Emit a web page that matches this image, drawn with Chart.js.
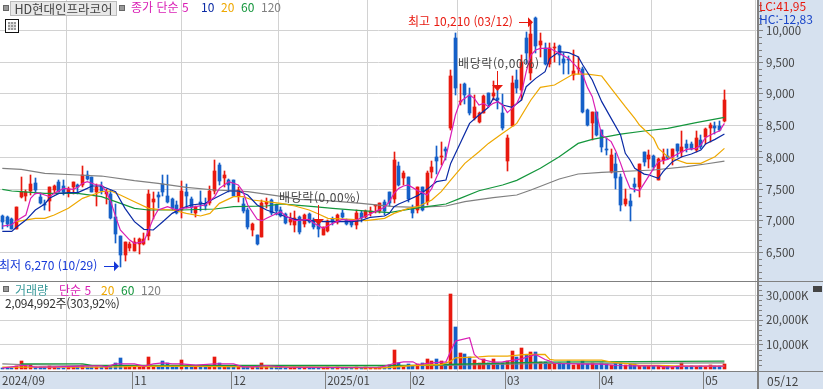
<!DOCTYPE html>
<html lang="ko"><head><meta charset="utf-8">
<style>
html,body{margin:0;padding:0;background:#fff;overflow:hidden}
#wrap{position:relative;width:823px;height:389px;font-family:"Noto Sans CJK KR","Noto Sans",sans-serif;font-size:12px;line-height:14px;color:#444}
canvas{position:absolute;left:0;top:0}
.t{position:absolute;white-space:pre}
.sq{position:absolute;width:4px;height:4px;background:#999;border:1px solid #666}
</style>
<script src="https://cdn.jsdelivr.net/npm/chart.js@4"></script>
</head><body>
<div id="wrap">
<canvas id="c" width="823" height="389"></canvas>
<div class="sq" style="left:3px;top:5px"></div>
<div class="t" style="left:10px;top:1px;width:105px;height:13px;background:#e8e8e8;border:1px solid #bbb;line-height:13px;text-align:center;color:#444;font-size:12.5px">HD현대인프라코어</div>
<div class="sq" style="left:119px;top:5px"></div>
<div class="t" style="left:131px;top:0;color:#d91eb5">종가 단순 5</div>
<div class="t" style="left:201px;top:0;color:#0a2aa5">10</div>
<div class="t" style="left:221px;top:0;color:#eea800">20</div>
<div class="t" style="left:241px;top:0;color:#14963c">60</div>
<div class="t" style="left:261px;top:0;color:#808080">120</div>
<svg style="position:absolute;left:5px;top:19px" width="14" height="14"><rect x=".5" y=".5" width="13" height="13" fill="#fff" stroke="#111"/><rect x="3" y="3" width="8" height="8" fill="#999"/><path d="M5.5 3v8M8.5 3v8M3 5.5h8M3 8.5h8" stroke="#ddd"/></svg>
<div class="t" style="left:759px;top:-1px;color:#e8190f">LC:41,95</div>
<div class="t" style="left:759px;top:12px;color:#1a46c8">HC:-12,83</div>
<div class="t" style="left:408px;top:14px;color:#e8190f">최고 10,210 (03/12)</div>
<div class="t" style="left:-1px;top:258px;color:#1538d8">최저 6,270 (10/29)</div>
<div class="t" style="left:458px;top:56px;color:#444;letter-spacing:.6px">배당락(0,00%)</div>
<div class="t" style="left:279px;top:190px;color:#444;letter-spacing:.6px">배당락(0,00%)</div>
<div class="sq" style="left:3px;top:286px"></div>
<div class="t" style="left:15px;top:283px;color:#3a9a9a">거래량</div>
<div class="t" style="left:59px;top:283px;color:#d91eb5">단순 5</div>
<div class="t" style="left:101px;top:283px;color:#eea800">20</div>
<div class="t" style="left:121px;top:283px;color:#14963c">60</div>
<div class="t" style="left:141px;top:283px;color:#808080">120</div>
<div class="t" style="left:5px;top:296px;color:#333;letter-spacing:-.3px">2,094,992주(303,92%)</div>
<div style="position:absolute;left:813px;top:286px;width:9px;height:6px;background:#444"></div>
<div class="t" style="left:767px;top:374px;color:#444">05/12</div>
</div>
<script>
const opens=[7080,7060,7030,6880,7370,7390,7480,7600,7370,7270,
7320,7490,7620,7550,7450,7530,7570,7570,7720,7690,
7450,7550,7430,7430,7060,6760,6470,6580,6530,6640,
6640,6760,7300,7410,7580,7390,7350,7250,7170,7450,
7350,7130,7300,7270,7290,7480,7880,7680,7650,7650,
7390,7270,7180,6860,6780,6750,7270,7330,7250,7180,
7110,6980,6940,7070,6960,7110,7020,6990,6780,6840,
7030,6980,7120,7010,6990,6940,7130,7060,7120,7230,
7160,7300,7450,7350,7860,7680,7690,7200,7180,7530,
7300,7770,8010,8010,8130,8460,9880,8880,9160,8990,
8620,8560,8700,9010,8970,8930,8700,7940,8500,9220,
9060,9880,9330,10200,9770,9720,9470,9720,9760,9550,
9550,9300,9390,9400,8750,8550,8720,8430,8140,7770,
7900,7700,7270,7310,7580,7540,8080,7980,8020,7640,
7960,8020,8000,8210,8080,8220,8220,8120,8280,8320,
8470,8500,8500,8580];
const closes=[6990,6950,6880,7220,7450,7450,7580,7490,7280,7250,
7530,7550,7460,7450,7500,7610,7530,7720,7660,7460,
7540,7480,7450,7050,6800,6470,6670,6630,6670,6710,
6720,7430,7350,7370,7460,7300,7200,7130,7470,7390,
7220,7220,7270,7230,7480,7790,7630,7720,7570,7390,
7490,7150,6910,6960,6630,7290,7300,7130,7150,7080,
6970,7030,7040,6830,7100,6990,6910,6880,6900,7000,
6990,7090,7060,6960,6940,7120,7040,7150,7160,7240,
7280,7160,7280,7960,7570,7760,7340,7130,7530,7180,
7760,7850,7950,8020,8110,9280,9090,8890,8980,8700,
8790,8700,8970,8840,9010,8900,8470,8300,9170,9100,
9510,9640,9950,9750,9830,9480,9720,9730,9610,9490,
9530,9360,9410,8720,8510,8710,8350,8170,8120,8040,
7680,7250,7340,7240,7540,7900,7930,8040,7850,7980,
8010,7990,8130,8110,8160,8150,8140,8300,8160,8450,
8510,8470,8440,8900];
const highs=[7090,7080,7040,7220,7700,7490,7720,7670,7440,7330,
7540,7570,7640,7650,7530,7620,7580,7870,7780,7700,
7590,7620,7510,7490,7270,6770,6670,6670,6730,6730,
6810,7490,7450,7450,7720,7720,7360,7320,7630,7590,
7370,7240,7470,7360,7550,7960,7910,7790,7660,7650,
7540,7360,7200,6970,6780,7330,7360,7340,7270,7220,
7120,7130,7160,7080,7110,7120,7040,7020,6900,7020,
7060,7110,7170,7030,7020,7170,7150,7170,7220,7250,
7290,7330,7460,8080,7930,7780,7700,7250,7540,7540,
7780,7950,8180,8240,8170,9370,9960,9160,9170,9100,
8990,8710,8980,9020,9210,9060,9000,8360,9280,9380,
9610,9980,10110,10210,9960,9800,9800,9810,9770,9640,
9600,9690,9590,9430,8760,8720,8720,8430,8300,8130,
8070,7740,7500,7430,7670,7900,8090,8120,8040,7990,
8130,8130,8140,8220,8420,8280,8250,8420,8350,8470,
8550,8560,8570,9060];
const lows=[6880,6910,6870,6870,7360,7320,7410,7430,7270,7170,
7150,7430,7450,7410,7380,7430,7430,7540,7640,7450,
7240,7430,7270,7030,6660,6270,6370,6520,6530,6480,
6620,6700,7030,7200,7390,7290,7170,7110,7050,7200,
7130,7070,7160,7170,7250,7430,7570,7530,7450,7390,
7300,7120,6880,6770,6620,6750,7200,7090,7090,7060,
6950,6940,6820,6790,6910,6970,6880,6750,6780,6820,
6940,6960,7050,6940,6910,6870,6990,7040,7080,7130,
7120,7090,7240,7290,7550,7570,7300,7050,7120,7160,
7250,7670,7740,7880,7960,8440,8980,8830,8850,8670,
8590,8550,8700,8800,8900,8770,8440,7790,8490,9010,
8900,9480,9220,9650,9590,9460,9430,9510,9450,9310,
9320,9220,9320,8700,8490,8280,8340,8080,8040,7750,
7510,7150,7240,7000,7460,7380,7860,7830,7800,7640,
7900,7980,7880,8000,8010,8090,8120,8090,8130,8220,
8250,8370,8410,8560];
const volumes=[800,700,800,1300,3600,1500,1700,1000,900,1000,
1600,900,800,800,900,1100,900,1900,900,1000,
1000,900,1000,1400,2700,4450,1300,1100,1100,1000,
1100,4860,1400,1300,3240,2700,1500,1500,3650,1400,
1300,1300,1100,900,1300,4860,2430,1300,1300,1300,
1300,1000,1200,1100,900,2430,900,1100,900,900,
800,800,900,900,800,700,700,800,700,900,
700,900,700,700,700,900,800,900,700,700,
900,1200,1700,7700,2700,1350,2025,1600,2025,2430,
4050,3240,4050,3240,2025,30400,17000,6480,6075,5000,
3650,2700,4320,2700,4050,2700,2700,3375,7290,4860,
8500,5670,6885,6885,2970,2970,2400,2400,2700,2160,
3375,1620,2025,3375,2025,2430,1620,2430,2025,1620,
2700,2700,1900,2025,2025,1350,1500,1300,1350,1500,
1300,1350,1200,1350,2430,1200,1350,1200,1300,1200,
1900,1300,1300,2095];

const ma5Idx=[0,2,3,5,6,7,8,9,10,11,13,15,16,17,18,20,21,22,23,24,25,27,28,30,31,32,33,34,35,37,38,40,43,45,46,48,50,51,52,54,55,56,57,59,60,62,63,65,66,68,69,70,72,74,75,77,79,81,82,83,84,85,86,88,89,90,91,92,94,96,97,99,100,101,102,103,104,105,106,107,108,109,110,111,112,113,114,116,118,120,122,123,124,125,126,127,129,130,131,132,133,135,136,138,139,141,142,144,145,147,148,149,151,152,153];
const ma5=[6920,6940,7005,7094,7357,7435,7435,7409,7383,7435,7514,7498,7530,7593,7619,7567,7567,7462,7304,7068,6858,6700,6648,6674,6858,7042,7173,7199,7225,7173,7199,7215,7252,7383,7514,7619,7567,7462,7252,7026,7005,7042,7079,7147,7079,7005,7015,7026,6963,6884,6926,6963,7026,7005,7015,7079,7147,7215,7304,7435,7514,7551,7567,7478,7446,7409,7514,7690,8012,8669,8879,8984,8931,8826,8852,8800,8852,8879,8826,8706,8774,8852,9010,9351,9614,9693,9719,9719,9640,9561,9404,9299,9100,8957,8660,8354,8250,8100,7907,7697,7514,7477,7592,7829,7934,7970,8012,8091,8128,8144,8196,8317,8390,8422,8537];
const ma10Idx=[0,2,3,5,7,9,10,12,14,16,18,19,21,24,26,28,30,32,34,36,38,40,43,45,48,50,52,54,56,59,62,64,68,71,74,76,78,81,82,83,84,86,88,90,92,94,95,97,99,101,103,104,106,108,110,111,113,115,116,118,120,122,123,125,127,129,131,132,133,134,136,137,139,140,142,144,146,148,149,151,153];
const ma10=[6837,6837,6900,7015,7173,7268,7357,7435,7446,7446,7514,7551,7551,7462,7199,6989,6869,6858,6989,7120,7199,7252,7278,7357,7472,7472,7409,7252,7173,7094,7026,7015,6989,6989,6989,7005,7058,7079,7120,7225,7268,7330,7399,7498,7619,7646,7907,8222,8537,8669,8790,8931,8826,8790,8905,9115,9246,9351,9561,9666,9650,9588,9456,9220,8879,8616,8354,8065,7960,7829,7739,7724,7671,7776,7934,8012,8054,8117,8212,8285,8369];
const ma20Idx=[3,7,9,11,14,17,19,21,23,25,28,31,33,36,39,42,44,46,49,51,53,56,59,62,65,67,69,74,77,81,83,86,88,91,93,95,98,101,103,106,109,112,114,117,121,124,127,129,132,134,135,138,139,141,145,148,151,153];
const ma20=[6989,7042,7042,7094,7199,7357,7409,7462,7472,7409,7304,7199,7183,7173,7120,7079,7120,7278,7383,7383,7330,7304,7278,7236,7173,7110,7042,7026,7005,7042,7120,7199,7225,7330,7462,7645,7907,8091,8222,8380,8537,8905,9105,9141,9314,9314,9283,9089,8800,8616,8511,8301,8144,8012,7907,7907,8012,8144];
const ma60Idx=[0,2,4,9,16,21,24,28,31,38,45,49,56,59,66,70,76,82,86,90,94,97,101,106,109,114,118,122,125,131,136,141,147,153];
const ma60=[7498,7472,7462,7435,7435,7383,7304,7199,7173,7173,7189,7225,7236,7268,7225,7199,7163,7131,7183,7225,7268,7357,7477,7567,7640,7829,8012,8222,8285,8369,8417,8459,8548,8632];
const ma120Idx=[0,4,9,16,21,28,33,39,45,52,58,63,69,76,83,88,94,98,104,109,112,118,122,127,138,145,149,153];
const ma120=[7829,7813,7750,7724,7708,7635,7593,7530,7488,7462,7399,7341,7320,7278,7225,7215,7236,7304,7367,7409,7488,7661,7740,7766,7803,7855,7897,7944];

const volMa5Idx=[0,4,5,7,11,19,21,22,24,28,30,32,34,36,38,41,45,49,51,53,56,60,70,80,81,83,85,87,88,91,94,95,96,99,100,101,104,106,107,110,113,115,116,117,124,127,130,134,139,140,142,144,153];
const volMa5=[540,1620,1620,1000,1080,1485,1485,1080,2295,2295,1350,2295,2700,2295,2295,1800,2295,2295,1080,1080,1620,1000,800,900,1350,2430,3100,3100,2025,2700,3100,7425,11475,12825,6075,4320,2970,3100,3375,4320,6075,4050,3375,2430,2160,2160,1620,1485,1485,1080,1080,1350,1350];
const volMa20Idx=[0,20,25,30,40,60,70,81,87,93,95,96,101,103,107,111,115,116,117,127,129,133,135,139,144,153];
const volMa20=[950,1000,1100,1400,1300,1000,800,700,1620,2025,3375,4725,5130,5400,5400,6075,6075,4050,3780,3780,2970,2295,1620,1620,1350,1350];
const volMa60Idx=[4,17,19,60,82,88,94,115,153];
const volMa60=[2295,2295,1620,1620,1620,1700,2025,2970,3375];
const volMa120Idx=[0,4,17,56,93,115,153];
const volMa120=[2295,2025,1620,1350,1620,2430,2700];

const priceTicks=[6500,7000,7500,8000,8500,9000,9500,10000];
const volumeTicks=[10000,20000,30000];
const xTickIndex=[-0.487,27.5,48.5,68.4,86.4,106.5,126.4,148.5];
const xTickLabels=["2024/09","11","12","2025/01","02","03","04","05"];
const lowMark={index:25,price:6270};
const highMark={index:113,price:10210};
const dividendIdx=[67,105];

const RED="#e8190f",BLUE="#1560c8",GRID="#d2d2d2",AXIS="#808080",PANEL="#d6e1ef";
const colors=closes.map((c,i)=>c>=opens[i]?RED:BLUE);
const pts=(xs,ys)=>xs.map((x,i)=>({x,y:ys[i]}));
const line=(label,xs,ys,col,axis,w)=>({type:'line',label,data:pts(xs,ys),borderColor:col,backgroundColor:col,borderWidth:w||1.2,pointRadius:0,tension:0,yAxisID:axis,order:1,clip:true});
const bar=(label,data,axis,th,ord)=>({type:'bar',label,data,backgroundColor:colors,borderWidth:0,barThickness:th,grouped:false,yAxisID:axis,order:ord});
const noPad=(s)=>{s.paddingTop=0;s.paddingBottom=0;s.paddingLeft=0;s.paddingRight=0;};

const panels={id:'panels',beforeDraw(ch){
  const g=ch.ctx,a=ch.chartArea;
  g.save();g.fillStyle=PANEL;
  g.fillRect(a.right,0,ch.width-a.right,ch.height);
  g.fillRect(0,a.bottom,ch.width,ch.height-a.bottom);
  g.restore();
},afterDraw(ch){
  const g=ch.ctx,a=ch.chartArea,y=ch.scales.y,v=ch.scales.v,x=ch.scales.x;
  g.save();g.fillStyle=AXIS;
  g.fillRect(a.right,0,2,ch.height);
  g.fillRect(0,Math.round(y.bottom),ch.width,1);
  g.fillRect(0,Math.round(a.bottom),ch.width,1);
  for(let p=6100;p<=10400;p+=100){ if(p%500) g.fillRect(a.right+2,Math.round(y.getPixelForValue(p)),3,1); }
  for(let p=2000;p<=34000;p+=2000){ if(p%10000) g.fillRect(a.right+2,Math.round(v.getPixelForValue(p)),3,1); }
  for(const t of xTickIndex.slice(1)) g.fillRect(Math.round(x.getPixelForValue(t)),a.bottom,1,ch.height-a.bottom);
  g.fillRect(a.right,a.bottom,2,ch.height-a.bottom);
  /* arrows */
  const hx=Math.floor(x.getPixelForValue(highMark.index)),hy=y.getPixelForValue(highMark.price)+4.5;
  g.fillStyle=g.strokeStyle=RED;g.lineWidth=1;
  g.fillRect(hx-16,Math.round(hy),11,1);
  g.beginPath();g.moveTo(hx-2,hy+.5);g.lineTo(hx-7,hy-4.5);g.lineTo(hx-7,hy+5.5);g.closePath();g.fill();
  const lx=Math.floor(x.getPixelForValue(lowMark.index)),ly=y.getPixelForValue(lowMark.price)-1.5;
  g.fillStyle=g.strokeStyle="#1538d8";
  g.fillRect(lx-16,Math.round(ly),11,1);
  g.beginPath();g.moveTo(lx-1,ly+.5);g.lineTo(lx-6,ly-4.5);g.lineTo(lx-6,ly+5.5);g.closePath();g.fill();
  g.fillStyle=RED;
  dividendIdx.forEach((d,k)=>{
    const dx=Math.floor(x.getPixelForValue(d));
    const tip=k===0?225:91;
    g.fillRect(dx,tip-20,1,15);
    g.beginPath();g.moveTo(dx+.5,tip);g.lineTo(dx-5,tip-6);g.lineTo(dx+6,tip-6);g.closePath();g.fill();
  });
  g.restore();
}};
const crisp={id:'crisp',beforeDatasetDraw(ch,args){
  if(args.meta.type!=='bar')return;
  for(const el of args.meta.data){
    el.x=Math.floor(el.x)+.5;
    let a=Math.round(el.y),b=Math.round(el.base);
    if(a===b)a=b-1;
    el.y=a;el.base=b;
  }
}};

new Chart(document.getElementById('c'),{
  data:{datasets:[
    line('MA5',ma5Idx,ma5,'#d91eb5','y'),
    line('MA10',ma10Idx,ma10,'#0a2aa5','y'),
    line('MA20',ma20Idx,ma20,'#eea800','y'),
    line('MA60',ma60Idx,ma60,'#14963c','y'),
    line('MA120',ma120Idx,ma120,'#808080','y'),
    line('V5',volMa5Idx,volMa5,'#d91eb5','v'),
    line('V20',volMa20Idx,volMa20,'#eea800','v',1.3),
    line('V60',volMa60Idx,volMa60,'#14963c','v',1.3),
    line('V120',volMa120Idx,volMa120,'#808080','v'),
    bar('body',opens.map((o,i)=>({x:i,y:[o,closes[i]]})),'y',3,5),
    bar('wick',lows.map((l,i)=>({x:i,y:[l,highs[i]]})),'y',1,6),
    bar('volume',volumes.map((q,i)=>({x:i,y:q})),'v',3,7)
  ]},
  options:{
    responsive:false,animation:false,events:[],
    layout:{padding:0},
    plugins:{legend:{display:false},tooltip:{enabled:false}},
    scales:{
      x:{type:'linear',min:-0.487,max:159.9,bounds:'data',offset:false,
        afterBuildTicks(s){s.ticks=xTickIndex.map(value=>({value}));},
        afterFit(s){s.height=18;noPad(s);},
        grid:{color:(c)=>c.index===0?'transparent':GRID,drawTicks:false},
        border:{display:false},
        ticks:{autoSkip:false,maxRotation:0,align:'start',labelOffset:2,padding:3,color:'#444',
          font:{family:'"Noto Sans CJK KR"',size:11.5},
          callback:(v,i)=>xTickLabels[i]}
      },
      y:{type:'linear',position:'right',stack:'p',stackWeight:281,weight:1,min:6055,max:10480,bounds:'data',
        afterBuildTicks(s){s.ticks=priceTicks.map(value=>({value}));},
        afterFit(s){s.width=66;noPad(s);},
        grid:{color:GRID,tickColor:AXIS,tickLength:6},border:{color:AXIS,width:1},
        ticks:{padding:3,crossAlign:'near',color:'#444',autoSkip:false,font:{family:'"Noto Sans CJK KR"',size:11.5},
          callback:v=>v.toLocaleString('en-US')}
      },
      v:{type:'linear',position:'right',stack:'p',stackWeight:90,weight:2,min:-607,max:35790,bounds:'data',
        afterBuildTicks(s){s.ticks=volumeTicks.map(value=>({value}));},
        afterFit(s){s.width=66;noPad(s);},
        grid:{color:GRID,tickColor:AXIS,tickLength:6},border:{color:AXIS,width:1},
        ticks:{padding:3,crossAlign:'near',color:'#444',autoSkip:false,font:{family:'"Noto Sans CJK KR"',size:11.5},
          callback:v=>v.toLocaleString('en-US')+'K'}
      }
    }
  },
  plugins:[panels,crisp]
});
</script>
</body></html>
